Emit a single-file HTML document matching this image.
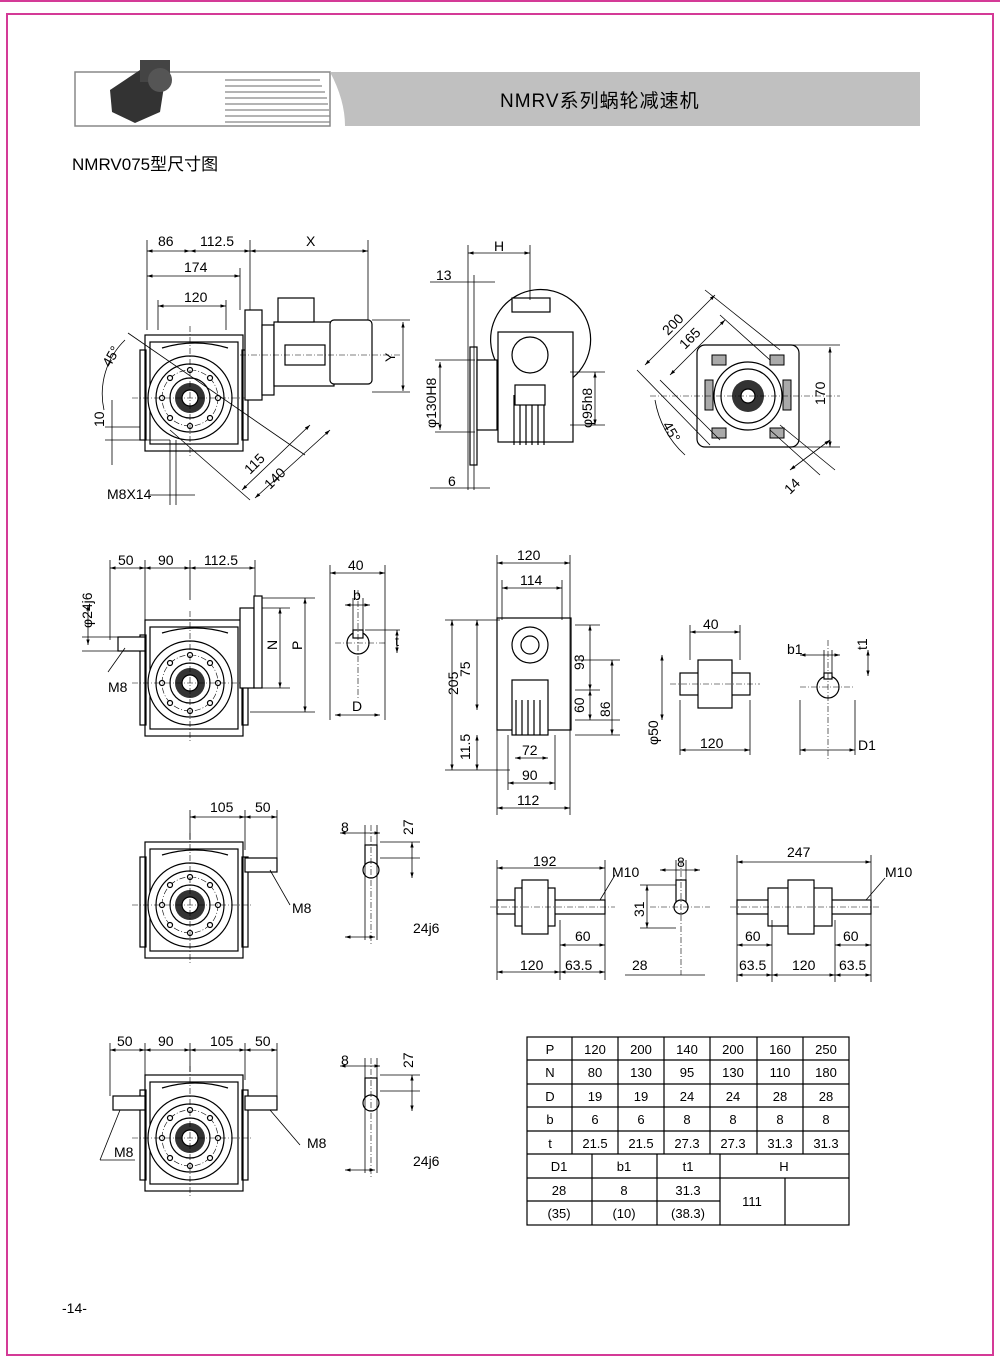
<!DOCTYPE html>
<html><head><meta charset="utf-8"><style>
body{margin:0;background:#fff;}
svg{display:block;font-family:"Liberation Sans","Noto Sans CJK SC",sans-serif;font-size:14px;}
text{fill:#000;}
.l{stroke:#000;stroke-width:1.2;fill:none}
.t{stroke:#000;stroke-width:.8;fill:none}
.c{stroke:#000;stroke-width:.6;fill:none;stroke-dasharray:6 2 1 2}
.f{fill:#fff;stroke:#000;stroke-width:1.2}
.g{fill:#aaa;stroke:#000;stroke-width:1}
</style></head><body>
<svg width="1000" height="1366" viewBox="0 0 1000 1366" xmlns="http://www.w3.org/2000/svg">
<defs>
<marker id="a" viewBox="0 0 10 10" refX="10" refY="5" markerWidth="7" markerHeight="7" orient="auto-start-reverse"><path d="M0,2 L10,5 L0,8z" fill="#000"/></marker>
<g id="gb">
 <rect class="f" x="-45" y="-63" width="98" height="116"/>
 <rect class="l" x="-40" y="-56" width="88" height="102"/>
 <path class="l" d="M-28,-50 Q5,-60 38,-50"/>
 <rect class="l" x="-50" y="-48" width="6" height="90"/>
 <rect class="l" x="52" y="-48" width="6" height="90"/>
 <circle class="f" cx="0" cy="0" r="42"/>
 <circle class="l" cx="0" cy="0" r="34"/>
 <circle class="c" cx="0" cy="0" r="28"/>
 <circle class="l" cx="0" cy="0" r="20"/>
 <circle fill="#333" cx="0" cy="0" r="15"/>
 <circle class="f" cx="0" cy="0" r="8"/>
 <circle class="f" cx="0" cy="-28" r="2.5"/><circle class="f" cx="0" cy="28" r="2.5"/>
 <circle class="f" cx="-28" cy="0" r="2.5"/><circle class="f" cx="28" cy="0" r="2.5"/>
 <circle class="f" cx="-20" cy="-20" r="2.5"/><circle class="f" cx="20" cy="20" r="2.5"/>
 <circle class="f" cx="-20" cy="20" r="2.5"/><circle class="f" cx="20" cy="-20" r="2.5"/>
 <line class="c" x1="-58" y1="0" x2="62" y2="0"/><line class="c" x1="0" y1="-72" x2="0" y2="60"/>
</g>
</defs>
<rect width="1000" height="1366" fill="#fff"/>
<line x1="0" y1="1" x2="1000" y2="1" stroke="#d43a97" stroke-width="2"/>
<rect x="7" y="14" width="986" height="1341" fill="none" stroke="#d43a97" stroke-width="2"/>

<!-- header -->
<rect x="75" y="72" width="255" height="54" fill="#fff" stroke="#888" stroke-width="1.5"/>
<g stroke="#888" stroke-width="1.2">
<line x1="225" y1="80" x2="320" y2="80"/><line x1="225" y1="86" x2="322" y2="86"/><line x1="225" y1="92" x2="325" y2="92"/><line x1="225" y1="98" x2="327" y2="98"/><line x1="225" y1="104" x2="328" y2="104"/><line x1="225" y1="110" x2="329" y2="110"/><line x1="225" y1="116" x2="330" y2="116"/><line x1="225" y1="122" x2="330" y2="122"/></g>
<path d="M330,72 Q345,100 345,126 L920,126 L920,72 Z" fill="#c0c0c0"/>
<path d="M110,90 L140,70 L165,80 L160,112 L135,123 L112,112 Z" fill="#333"/>
<rect x="140" y="60" width="30" height="22" fill="#444"/>
<circle cx="160" cy="80" r="12" fill="#555"/>
<text x="500" y="107" font-size="19" letter-spacing="1">NMRV系列蜗轮减速机</text>
<text x="72" y="170" font-size="17">NMRV075型尺寸图</text>

<!-- VIEW 1 -->
<use href="#gb" transform="translate(190,398)"/>
<rect class="f" x="245" y="310" width="17" height="90"/>
<rect class="f" x="262" y="325" width="12" height="70"/>
<rect class="f" x="274" y="322" width="60" height="64"/>
<rect class="f" x="278" y="298" width="36" height="24"/>
<rect class="l" x="285" y="345" width="40" height="20"/>
<rect class="f" x="330" y="320" width="42" height="64" rx="4"/>
<line class="c" x1="240" y1="355" x2="400" y2="355"/>
<g class="t" marker-start="url(#a)" marker-end="url(#a)">
<line x1="147" y1="251" x2="190" y2="251"/><line x1="190" y1="251" x2="250" y2="251"/><line x1="250" y1="251" x2="368" y2="251"/>
<line x1="147" y1="276" x2="240" y2="276"/><line x1="158" y1="306" x2="226" y2="306"/>
<line x1="403" y1="322" x2="403" y2="391"/>
<line x1="242" y1="490" x2="310" y2="425" /><line x1="255" y1="498" x2="330" y2="430"/>
</g>
<g class="t"><line x1="147" y1="240" x2="147" y2="330"/><line x1="250" y1="240" x2="250" y2="310"/><line x1="368" y1="240" x2="368" y2="320"/><line x1="240" y1="268" x2="240" y2="310"/><line x1="158" y1="300" x2="158" y2="330"/><line x1="226" y1="300" x2="226" y2="330"/>
<line x1="372" y1="320" x2="410" y2="320"/><line x1="372" y1="392" x2="410" y2="392"/>
<line x1="128" y1="333" x2="305" y2="455"/><line x1="170" y1="430" x2="250" y2="500"/>
<line x1="105" y1="427" x2="140" y2="427"/><line x1="105" y1="440" x2="170" y2="440"/><line x1="112" y1="400" x2="112" y2="465"/>
<line x1="170" y1="440" x2="170" y2="505"/><line x1="176" y1="440" x2="176" y2="505"/><line x1="150" y1="495" x2="195" y2="495"/>
<path d="M125,340 A75,75 0 0,0 104,410"/></g>
<text x="158" y="246">86</text><text x="200" y="246">112.5</text><text x="306" y="246">X</text>
<text x="184" y="272">174</text><text x="184" y="302">120</text>
<text transform="translate(395,362) rotate(-90)">Y</text>
<text transform="translate(110,368) rotate(-60)">45°</text>
<text transform="translate(104,427) rotate(-90)">10</text>
<text transform="translate(250,475) rotate(-45)">115</text><text transform="translate(270,490) rotate(-45)">140</text>
<text x="107" y="499">M8X14</text>

<!-- VIEW side -->
<rect class="f" x="470" y="347" width="7" height="118"/>
<rect class="f" x="477" y="360" width="20" height="70"/>
<path class="l" d="M495,360 A50,50 0 1,1 570,380"/>
<rect class="f" x="512" y="298" width="38" height="14"/>
<rect class="f" x="498" y="332" width="75" height="110"/>
<circle class="f" cx="530" cy="355" r="18"/>
<g class="l"><line x1="514" y1="395" x2="514" y2="445"/><line x1="520" y1="395" x2="520" y2="445"/><line x1="526" y1="395" x2="526" y2="445"/><line x1="532" y1="395" x2="532" y2="445"/><line x1="538" y1="395" x2="538" y2="445"/><line x1="544" y1="395" x2="544" y2="445"/></g>
<rect class="f" x="515" y="385" width="30" height="20"/>
<g class="t" marker-start="url(#a)" marker-end="url(#a)"><line x1="468" y1="253" x2="530" y2="253"/><line x1="440" y1="362" x2="440" y2="430"/><line x1="595" y1="372" x2="595" y2="425"/></g>
<g class="t"><line x1="468" y1="245" x2="468" y2="490"/><line x1="474" y1="275" x2="474" y2="490"/><line x1="530" y1="245" x2="530" y2="300"/><line x1="430" y1="282" x2="495" y2="282"/><line x1="430" y1="488" x2="490" y2="488"/>
<line x1="435" y1="360" x2="475" y2="360"/><line x1="435" y1="432" x2="475" y2="432"/><line x1="570" y1="372" x2="605" y2="372"/><line x1="570" y1="425" x2="605" y2="425"/></g>
<text x="494" y="251">H</text><text x="436" y="280">13</text><text x="448" y="486">6</text>
<text transform="translate(436,428) rotate(-90)">φ130H8</text><text transform="translate(592,428) rotate(-90)">φ95h8</text>

<!-- flange -->
<rect class="f" x="697" y="345" width="102" height="102" rx="8"/>
<circle class="l" cx="748" cy="396" r="34"/><circle class="l" cx="748" cy="396" r="27"/><circle fill="#333" cx="748" cy="396" r="16"/><circle class="f" cx="748" cy="396" r="7"/>
<g class="g"><rect x="712" y="355" width="14" height="10"/><rect x="770" y="355" width="14" height="10"/><rect x="712" y="428" width="14" height="10"/><rect x="770" y="428" width="14" height="10"/><rect x="705" y="380" width="8" height="30"/><rect x="783" y="380" width="8" height="30"/></g>
<line class="c" x1="650" y1="396" x2="840" y2="396"/>
<g class="t" marker-start="url(#a)" marker-end="url(#a)"><line x1="645" y1="365" x2="715" y2="295"/><line x1="670" y1="375" x2="725" y2="320"/><line x1="830" y1="347" x2="830" y2="447"/><line x1="790" y1="470" x2="830" y2="440"/></g>
<g class="t"><line x1="637" y1="370" x2="710" y2="445"/><line x1="705" y1="290" x2="780" y2="350"/><line x1="720" y1="315" x2="770" y2="360"/><line x1="660" y1="380" x2="720" y2="440"/>
<line x1="780" y1="345" x2="840" y2="345"/><line x1="780" y1="447" x2="840" y2="447"/><line x1="780" y1="425" x2="835" y2="470"/><line x1="770" y1="430" x2="820" y2="475"/>
<path d="M655,400 A95,95 0 0,0 685,455"/></g>
<text transform="translate(668,336) rotate(-45)">200</text><text transform="translate(685,350) rotate(-45)">165</text>
<text transform="translate(825,405) rotate(-90)">170</text><text transform="translate(662,425) rotate(60)">45°</text>
<text transform="translate(790,495) rotate(-45)">14</text>

<!-- VIEW 2 -->
<use href="#gb" transform="translate(190,683)"/>
<rect class="f" x="240" y="608" width="14" height="80"/><rect class="f" x="254" y="596" width="8" height="92"/>
<rect class="f" x="118" y="637" width="27" height="14"/>
<g class="t" marker-start="url(#a)" marker-end="url(#a)"><line x1="110" y1="568" x2="145" y2="568"/><line x1="145" y1="568" x2="190" y2="568"/><line x1="190" y1="568" x2="255" y2="568"/>
<line x1="280" y1="608" x2="280" y2="688"/><line x1="305" y1="598" x2="305" y2="712"/><line x1="88" y1="605" x2="88" y2="645"/></g>
<g class="t"><line x1="110" y1="560" x2="110" y2="640"/><line x1="145" y1="560" x2="145" y2="620"/><line x1="190" y1="560" x2="190" y2="600"/><line x1="255" y1="560" x2="255" y2="596"/>
<line x1="262" y1="598" x2="315" y2="598"/><line x1="262" y1="608" x2="290" y2="608"/><line x1="262" y1="688" x2="290" y2="688"/><line x1="250" y1="712" x2="315" y2="712"/>
<line x1="82" y1="637" x2="120" y2="637"/><line x1="82" y1="651" x2="120" y2="651"/><line x1="108" y1="672" x2="125" y2="648"/></g>
<text x="118" y="565">50</text><text x="158" y="565">90</text><text x="204" y="565">112.5</text>
<text transform="translate(277,650) rotate(-90)">N</text><text transform="translate(302,650) rotate(-90)">P</text>
<text transform="translate(92,628) rotate(-90)">φ24j6</text><text x="108" y="692">M8</text>

<!-- shaft key D -->
<circle class="f" cx="358" cy="643" r="11"/><rect class="f" x="353" y="630" width="10" height="8"/>
<line class="c" x1="358" y1="590" x2="358" y2="700"/><line class="c" x1="335" y1="643" x2="385" y2="643"/>
<g class="t" marker-start="url(#a)" marker-end="url(#a)"><line x1="330" y1="573" x2="385" y2="573"/><line x1="345" y1="605" x2="370" y2="605"/><line x1="397" y1="630" x2="397" y2="653"/><line x1="335" y1="715" x2="380" y2="715"/></g>
<g class="t"><line x1="330" y1="565" x2="330" y2="720"/><line x1="385" y1="565" x2="385" y2="720"/><line x1="353" y1="598" x2="353" y2="630"/><line x1="363" y1="598" x2="363" y2="630"/><line x1="365" y1="630" x2="400" y2="630"/></g>
<text x="348" y="570">40</text><text x="353" y="600">b</text><text x="395" y="646">t</text><text x="352" y="711">D</text>

<!-- top view 2 -->
<rect class="f" x="497" y="618" width="74" height="112"/>
<circle class="f" cx="530" cy="645" r="18"/><circle class="l" cx="530" cy="645" r="9"/>
<rect class="f" x="512" y="680" width="36" height="55"/>
<g class="l"><line x1="516" y1="700" x2="516" y2="735"/><line x1="522" y1="700" x2="522" y2="735"/><line x1="528" y1="700" x2="528" y2="735"/><line x1="534" y1="700" x2="534" y2="735"/><line x1="540" y1="700" x2="540" y2="735"/></g>
<g class="t" marker-start="url(#a)" marker-end="url(#a)"><line x1="497" y1="563" x2="570" y2="563"/><line x1="502" y1="588" x2="562" y2="588"/><line x1="452" y1="620" x2="452" y2="770"/><line x1="477" y1="620" x2="477" y2="710"/>
<line x1="590" y1="625" x2="590" y2="690"/><line x1="590" y1="690" x2="590" y2="720"/><line x1="612" y1="660" x2="612" y2="735"/>
<line x1="515" y1="758" x2="548" y2="758"/><line x1="508" y1="783" x2="555" y2="783"/><line x1="497" y1="808" x2="570" y2="808"/><line x1="477" y1="735" x2="477" y2="770"/></g>
<g class="t"><line x1="497" y1="555" x2="497" y2="815"/><line x1="570" y1="555" x2="570" y2="815"/><line x1="502" y1="580" x2="502" y2="620"/><line x1="562" y1="580" x2="562" y2="620"/><line x1="445" y1="620" x2="500" y2="620"/><line x1="445" y1="770" x2="510" y2="770"/>
<line x1="575" y1="625" x2="600" y2="625"/><line x1="575" y1="690" x2="600" y2="690"/><line x1="575" y1="720" x2="620" y2="720"/><line x1="575" y1="660" x2="620" y2="660"/><line x1="575" y1="735" x2="620" y2="735"/>
<line x1="508" y1="735" x2="508" y2="790"/><line x1="555" y1="735" x2="555" y2="790"/></g>
<text x="517" y="560">120</text><text x="520" y="585">114</text>
<text transform="translate(458,695) rotate(-90)">205</text><text transform="translate(470,677) rotate(-90)">75</text><text transform="translate(470,760) rotate(-90)">11.5</text>
<text transform="translate(584,670) rotate(-90)">93</text><text transform="translate(584,713) rotate(-90)">60</text><text transform="translate(610,717) rotate(-90)">86</text>
<text x="522" y="755">72</text><text x="522" y="780">90</text><text x="517" y="805">112</text>

<!-- hollow shaft -->
<rect class="f" x="680" y="673" width="70" height="22"/><rect class="f" x="698" y="660" width="34" height="48"/>
<line class="c" x1="670" y1="684" x2="760" y2="684"/>
<g class="t" marker-start="url(#a)" marker-end="url(#a)"><line x1="690" y1="632" x2="740" y2="632"/><line x1="680" y1="750" x2="750" y2="750"/><line x1="662" y1="655" x2="662" y2="720"/></g>
<g class="t"><line x1="690" y1="625" x2="690" y2="660"/><line x1="740" y1="625" x2="740" y2="660"/><line x1="680" y1="700" x2="680" y2="755"/><line x1="750" y1="700" x2="750" y2="755"/></g>
<text x="703" y="629">40</text><text x="700" y="748">120</text><text transform="translate(658,745) rotate(-90)">φ50</text>
<circle class="f" cx="828" cy="687" r="11"/><rect class="f" x="824" y="673" width="8" height="6"/>
<line class="c" x1="828" y1="640" x2="828" y2="760"/><line class="c" x1="800" y1="687" x2="855" y2="687"/>
<g class="t" marker-start="url(#a)" marker-end="url(#a)"><line x1="800" y1="655" x2="840" y2="655"/><line x1="868" y1="650" x2="868" y2="676"/><line x1="800" y1="750" x2="855" y2="750"/></g>
<g class="t"><line x1="824" y1="650" x2="824" y2="673"/><line x1="832" y1="650" x2="832" y2="673"/><line x1="800" y1="700" x2="800" y2="755"/><line x1="855" y1="700" x2="855" y2="755"/></g>
<text x="787" y="654">b1</text><text transform="translate(867,650) rotate(-90)">t1</text><text x="858" y="750">D1</text>

<!-- VIEW 3 -->
<use href="#gb" transform="translate(190,905)"/>
<rect class="f" x="245" y="858" width="32" height="14"/>
<g class="t" marker-start="url(#a)" marker-end="url(#a)"><line x1="190" y1="817" x2="245" y2="817"/><line x1="245" y1="817" x2="277" y2="817"/></g>
<g class="t"><line x1="190" y1="810" x2="190" y2="840"/><line x1="245" y1="810" x2="245" y2="850"/><line x1="277" y1="810" x2="277" y2="858"/><line x1="270" y1="870" x2="290" y2="905"/></g>
<text x="210" y="812">105</text><text x="255" y="812">50</text><text x="292" y="913">M8</text>
<g id="k1"><rect class="f" x="365" y="845" width="12" height="28"/><circle class="f" cx="371" cy="870" r="8"/>
<line class="c" x1="371" y1="825" x2="371" y2="945"/></g>
<g class="t" marker-start="url(#a)" marker-end="url(#a)"><line x1="340" y1="833" x2="380" y2="833"/><line x1="412" y1="842" x2="412" y2="878"/><line x1="345" y1="937" x2="375" y2="937"/></g>
<g class="t"><line x1="365" y1="825" x2="365" y2="940"/><line x1="377" y1="825" x2="377" y2="940"/><line x1="380" y1="842" x2="420" y2="842"/><line x1="380" y1="858" x2="420" y2="858"/></g>
<text x="341" y="832">8</text><text transform="translate(413,835) rotate(-90)">27</text><text x="413" y="933">24j6</text>

<!-- output shafts -->
<rect class="f" x="497" y="900" width="108" height="14"/><rect class="f" x="515" y="888" width="40" height="38"/><rect class="f" x="522" y="880" width="26" height="54"/>
<line class="c" x1="490" y1="907" x2="615" y2="907"/>
<g class="t" marker-start="url(#a)" marker-end="url(#a)"><line x1="497" y1="868" x2="605" y2="868"/><line x1="560" y1="945" x2="605" y2="945"/><line x1="497" y1="972" x2="560" y2="972"/><line x1="560" y1="972" x2="605" y2="972"/></g>
<g class="t"><line x1="497" y1="860" x2="497" y2="980"/><line x1="605" y1="860" x2="605" y2="980"/><line x1="560" y1="920" x2="560" y2="980"/><line x1="600" y1="900" x2="615" y2="875"/></g>
<text x="533" y="866">192</text><text x="612" y="877">M10</text><text x="575" y="941">60</text><text x="520" y="970">120</text><text x="565" y="970">63.5</text>
<rect class="f" x="676" y="880" width="10" height="30"/><circle class="f" cx="681" cy="907" r="7"/>
<line class="c" x1="681" y1="860" x2="681" y2="975"/><line class="c" x1="650" y1="907" x2="710" y2="907"/>
<g class="t" marker-start="url(#a)" marker-end="url(#a)"><line x1="660" y1="870" x2="700" y2="870"/><line x1="647" y1="885" x2="647" y2="928"/></g>
<g class="t"><line x1="676" y1="860" x2="676" y2="880"/><line x1="686" y1="860" x2="686" y2="880"/><line x1="640" y1="885" x2="676" y2="885"/><line x1="640" y1="928" x2="676" y2="928"/><line x1="625" y1="975" x2="705" y2="975"/></g>
<text x="677" y="867">8</text><text transform="translate(644,917) rotate(-90)">31</text><text x="632" y="970">28</text>
<rect class="f" x="737" y="900" width="134" height="14"/><rect class="f" x="768" y="888" width="64" height="38"/><rect class="f" x="788" y="880" width="26" height="54"/>
<line class="c" x1="730" y1="907" x2="880" y2="907"/>
<g class="t" marker-start="url(#a)" marker-end="url(#a)"><line x1="737" y1="862" x2="871" y2="862"/><line x1="737" y1="945" x2="772" y2="945"/><line x1="835" y1="945" x2="871" y2="945"/><line x1="737" y1="975" x2="772" y2="975"/><line x1="772" y1="975" x2="835" y2="975"/><line x1="835" y1="975" x2="871" y2="975"/></g>
<g class="t"><line x1="737" y1="855" x2="737" y2="982"/><line x1="871" y1="855" x2="871" y2="982"/><line x1="772" y1="920" x2="772" y2="982"/><line x1="835" y1="920" x2="835" y2="982"/><line x1="866" y1="900" x2="885" y2="878"/></g>
<text x="787" y="857">247</text><text x="885" y="877">M10</text><text x="745" y="941">60</text><text x="843" y="941">60</text><text x="739" y="970">63.5</text><text x="792" y="970">120</text><text x="839" y="970">63.5</text>

<!-- VIEW 4 -->
<use href="#gb" transform="translate(190,1138)"/>
<rect class="f" x="113" y="1096" width="32" height="14"/><rect class="f" x="245" y="1096" width="32" height="14"/>
<g class="t" marker-start="url(#a)" marker-end="url(#a)"><line x1="110" y1="1050" x2="145" y2="1050"/><line x1="145" y1="1050" x2="190" y2="1050"/><line x1="190" y1="1050" x2="245" y2="1050"/><line x1="245" y1="1050" x2="277" y2="1050"/></g>
<g class="t"><line x1="110" y1="1043" x2="110" y2="1096"/><line x1="145" y1="1043" x2="145" y2="1075"/><line x1="190" y1="1043" x2="190" y2="1072"/><line x1="245" y1="1043" x2="245" y2="1080"/><line x1="277" y1="1043" x2="277" y2="1096"/>
<line x1="100" y1="1160" x2="120" y2="1110"/><line x1="100" y1="1160" x2="135" y2="1160"/><line x1="270" y1="1110" x2="300" y2="1145"/></g>
<text x="117" y="1046">50</text><text x="158" y="1046">90</text><text x="210" y="1046">105</text><text x="255" y="1046">50</text>
<text x="114" y="1157">M8</text><text x="307" y="1148">M8</text>
<g transform="translate(0,233)"><rect class="f" x="365" y="845" width="12" height="28"/><circle class="f" cx="371" cy="870" r="8"/>
<line class="c" x1="371" y1="825" x2="371" y2="945"/>
<g class="t" marker-start="url(#a)" marker-end="url(#a)"><line x1="340" y1="833" x2="380" y2="833"/><line x1="412" y1="842" x2="412" y2="878"/><line x1="345" y1="937" x2="375" y2="937"/></g>
<g class="t"><line x1="365" y1="825" x2="365" y2="940"/><line x1="377" y1="825" x2="377" y2="940"/><line x1="380" y1="842" x2="420" y2="842"/><line x1="380" y1="858" x2="420" y2="858"/></g>
<text x="341" y="832">8</text><text transform="translate(413,835) rotate(-90)">27</text><text x="413" y="933">24j6</text></g>

<!-- table -->
<g stroke="#000" stroke-width="1.2" fill="none">
<rect x="527" y="1037" width="322" height="188"/>
<line x1="527" y1="1060" x2="849" y2="1060"/><line x1="527" y1="1084" x2="849" y2="1084"/><line x1="527" y1="1107" x2="849" y2="1107"/><line x1="527" y1="1131" x2="849" y2="1131"/><line x1="527" y1="1154" x2="849" y2="1154"/><line x1="527" y1="1178" x2="849" y2="1178"/><line x1="527" y1="1201" x2="720" y2="1201"/>
<line x1="572" y1="1037" x2="572" y2="1154"/><line x1="618" y1="1037" x2="618" y2="1154"/><line x1="664" y1="1037" x2="664" y2="1154"/><line x1="710" y1="1037" x2="710" y2="1154"/><line x1="757" y1="1037" x2="757" y2="1154"/><line x1="803" y1="1037" x2="803" y2="1154"/>
<line x1="592" y1="1154" x2="592" y2="1225"/><line x1="657" y1="1154" x2="657" y2="1225"/><line x1="720" y1="1154" x2="720" y2="1225"/><line x1="785" y1="1178" x2="785" y2="1225"/>
</g>
<g font-size="13" text-anchor="middle">
<text x="550" y="1054">P</text><text x="595" y="1054">120</text><text x="641" y="1054">200</text><text x="687" y="1054">140</text><text x="733" y="1054">200</text><text x="780" y="1054">160</text><text x="826" y="1054">250</text>
<text x="550" y="1077">N</text><text x="595" y="1077">80</text><text x="641" y="1077">130</text><text x="687" y="1077">95</text><text x="733" y="1077">130</text><text x="780" y="1077">110</text><text x="826" y="1077">180</text>
<text x="550" y="1101">D</text><text x="595" y="1101">19</text><text x="641" y="1101">19</text><text x="687" y="1101">24</text><text x="733" y="1101">24</text><text x="780" y="1101">28</text><text x="826" y="1101">28</text>
<text x="550" y="1124">b</text><text x="595" y="1124">6</text><text x="641" y="1124">6</text><text x="687" y="1124">8</text><text x="733" y="1124">8</text><text x="780" y="1124">8</text><text x="826" y="1124">8</text>
<text x="550" y="1148">t</text><text x="595" y="1148">21.5</text><text x="641" y="1148">21.5</text><text x="687" y="1148">27.3</text><text x="733" y="1148">27.3</text><text x="780" y="1148">31.3</text><text x="826" y="1148">31.3</text>
<text x="559" y="1171">D1</text><text x="624" y="1171">b1</text><text x="688" y="1171">t1</text><text x="784" y="1171">H</text>
<text x="559" y="1195">28</text><text x="624" y="1195">8</text><text x="688" y="1195">31.3</text><text x="752" y="1206">111</text>
<text x="559" y="1218">(35)</text><text x="624" y="1218">(10)</text><text x="688" y="1218">(38.3)</text>
</g>
<text x="62" y="1313" font-size="14">-14-</text>
</svg>
</body></html>
